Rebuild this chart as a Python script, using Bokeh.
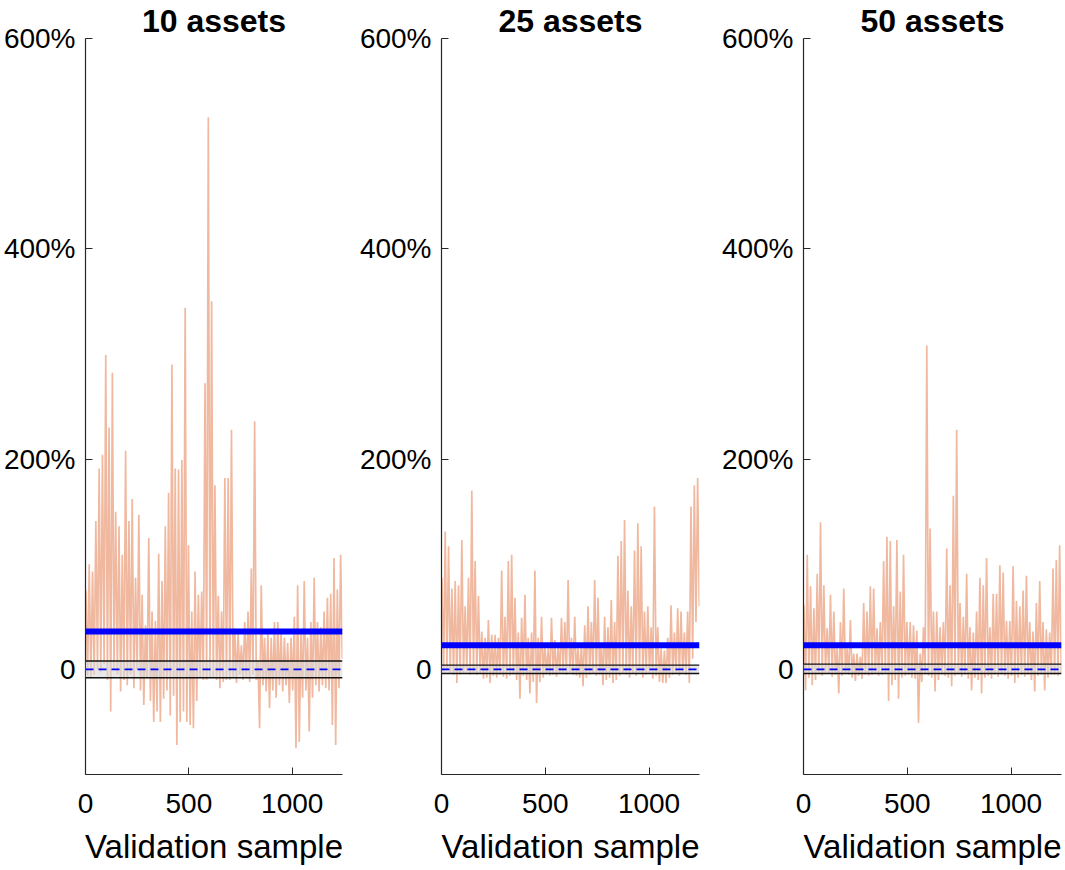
import numpy as np
from bokeh.plotting import figure
from bokeh.layouts import row
from bokeh.models import FixedTicker, Range1d, Span, BoxAnnotation
from bokeh.embed import file_html
from bokeh.resources import INLINE

# ---------------- data ----------------
titles = ["10 assets", "25 assets", "50 assets"]
y_ticks = [0, 200, 400, 600]
y_tick_labels = {0: "0", 200: "200%", 400: "400%", 600: "600%"}
x_ticks = [0, 500, 1000]
x_tick_labels = {0: "0", 500: "500", 1000: "1000"}
x_label = "Validation sample"
n_samples = 1243
bin_size = 16  # each bin: max and min of the validation-sample series

# 10 assets: per-bin highs / lows (%)
hi_10 = [75, 100, 93, 141, 191, 204, 299, 230, 282, 150, 136, 109, 208, 141, 162, 87,
         147, 71, 42, 125, 55, 46, 110, 84, 136, 168, 290, 191, 190, 199, 344, 118,
         55, 93, 71, 74, 272, 525, 350, 175, 70, 55, 182, 182, 228, 39, 35, 23,
         45, 55, 96, 236, 8, 80, 30, 35, 30, 45, 45, 35, 30, 25, 30, 50,
         80, 35, 84, 30, 45, 87, 45, 40, 55, 68, 72, 106, 76, 109]
lo_10 = [-6, -8, -5, 0, -3, 5, -10, -40, 0, -5, -21, -10, -15, -5, -18, 0,
         -20, -34, -8, -30, -50, -40, -50, -28, -20, -44, -25, -72, -50, -40, -50, -53,
         -56, -30, -8, -10, -10, -8, -8, -10, -18, -12, -10, -10, -8, -13, -5, -10,
         -8, -12, -5, -10, -56, -15, -21, -37, -20, -27, -15, -21, -15, -32, -20, -75,
         -69, -27, -20, -59, -27, -15, -21, -15, -18, -20, -53, -72, -18, 10]

# 25 assets
hi_25 = [87, 131, 117, 77, 84, 80, 123, 60, 87, 170, 103, 70, 36, 30, 47, 33,
         33, 30, 94, 50, 103, 109, 68, 35, 49, 71, 30, 35, 94, 30, 50, 25,
         20, 49, 28, 22, 49, 45, 85, 30, 50, 20, 25, 42, 60, 45, 85, 68,
         25, 50, 40, 66, 45, 108, 122, 142, 75, 60, 113, 139, 117, 55, 60, 40,
         155, 40, 20, 18, 30, 61, 35, 58, 55, 35, 55, 155, 175, 182]
lo_25 = [-2, 0, -3, -5, -13, -5, -3, -2, -5, -3, -5, -4, -9, -8, -13, -6,
         -8, -5, -7, -9, -6, -5, -10, -28, -6, -10, -23, -12, -32, -12, -8, -5,
         -6, -5, -7, -4, -3, -5, -3, -5, -6, -8, -16, -8, -5, -4, -6, -5,
         -15, -10, -8, -13, -10, -6, -3, -5, -8, -4, -6, -3, -8, -5, -4, -9,
         -6, -12, -13, -13, -8, -5, -4, -6, -3, -5, -13, 10, 45, 60]

# 50 assets
hi_50 = [61, 109, 79, 58, 91, 140, 80, 39, 71, 55, 20, 45, 77, 20, 47, 15,
         15, 12, 63, 55, 79, 77, 39, 45, 103, 126, 122, 60, 123, 74, 109, 45,
         45, 42, 37, 15, 40, 308, 134, 55, 55, 40, 45, 115, 80, 165, 228, 63,
         50, 91, 40, 35, 55, 87, 80, 106, 40, 72, 72, 99, 92, 46, 46, 98,
         65, 60, 75, 89, 45, 36, 63, 84, 45, 38, 35, 96, 104, 118]
lo_50 = [-20, -8, -15, -10, -5, -6, -3, -4, -7, -5, -23, -6, -4, -5, -8, -11,
         -6, -9, -5, -6, -5, -4, -6, -5, -4, -30, -15, -10, -28, -8, -6, -5,
         -8, -9, -51, -12, -5, -6, -8, -21, -10, -5, -6, -8, -16, -6, -5, -7,
         -5, -9, -20, -8, -10, -23, -8, -6, -9, -5, -7, -5, -6, -9, -6, -13,
         -8, -5, -7, -5, -10, -21, -6, -5, -20, -8, -5, -5, -6, -4]

mean_vals = [36, 23, 23]
band_upper = [8, 4, 5]
band_lower = [-8, -4, -4]
band_center = [0, 0, 0]

highs = [hi_10, hi_25, hi_50]
lows = [lo_10, lo_25, lo_50]

# ---------------- styling ----------------
FONT = "Liberation Sans"
series_color = "#EFB49A"
frame_w = [257, 258, 258]
border_left = [82, 82, 82]
border_right = [14, 19, 3]

figs = []
for i in range(3):
    hi = np.array(highs[i], dtype=float)
    lo = np.array(lows[i], dtype=float)
    k = np.arange(len(hi))
    xs = np.empty(2 * len(hi))
    ys = np.empty(2 * len(hi))
    xs[0::2] = k * bin_size + 2
    xs[1::2] = k * bin_size + 10
    ys[0::2] = hi
    ys[1::2] = lo

    p = figure(frame_width=frame_w[i], frame_height=736,
               x_range=Range1d(0, n_samples), y_range=Range1d(-100, 600),
               output_backend="svg", toolbar_location=None,
               min_border_left=border_left[i], min_border_right=border_right[i],
               min_border_top=0, min_border_bottom=0)
    p.title.text = titles[i]
    p.title.align = "center"
    p.title.text_font = FONT
    p.title.text_font_size = "32px"
    p.title.text_font_style = "bold"
    p.title.text_color = "#000000"
    p.title.standoff = 0
    p.title.offset = 0
    p.outline_line_color = None
    p.grid.visible = False
    p.background_fill_color = "white"

    p.line(xs, ys, line_color=series_color, line_width=1.7, line_alpha=0.95)

    p.add_layout(BoxAnnotation(bottom=band_lower[i], top=band_upper[i],
                               fill_color="#D9D9D9", fill_alpha=0.6, line_color=None))
    p.add_layout(Span(location=band_upper[i], dimension="width", line_color="#111111", line_width=1.4))
    p.add_layout(Span(location=band_lower[i], dimension="width", line_color="#111111", line_width=1.4))
    p.add_layout(Span(location=band_center[i], dimension="width", line_color="#0000FF",
                      line_width=1.6, line_dash="8 5"))
    p.add_layout(Span(location=mean_vals[i], dimension="width", line_color="#0000FF", line_width=6))

    p.yaxis.ticker = FixedTicker(ticks=y_ticks)
    p.yaxis.major_label_overrides = y_tick_labels
    p.xaxis.ticker = FixedTicker(ticks=x_ticks)
    p.xaxis.major_label_overrides = x_tick_labels
    p.xaxis.axis_label = x_label
    for ax in (p.xaxis[0], p.yaxis[0]):
        ax.axis_line_color = "#262626"
        ax.axis_line_width = 1.2
        ax.major_tick_line_color = "#262626"
        ax.major_tick_in = 7
        ax.major_tick_out = 0
        ax.minor_tick_line_color = None
        ax.major_label_text_font = FONT
        ax.major_label_text_font_size = "28px"
        ax.major_label_text_color = "#000000"
    p.yaxis.major_label_standoff = 10
    p.xaxis.major_label_standoff = 19
    p.xaxis.axis_label_text_font = FONT
    p.xaxis.axis_label_text_font_size = "33px"
    p.xaxis.axis_label_text_font_style = "normal"
    p.xaxis.axis_label_text_color = "#000000"
    p.xaxis.axis_label_standoff = 12
    figs.append(p)

layout = row(*figs, spacing=0)
open("out.html", "w").write(file_html(layout, INLINE))
